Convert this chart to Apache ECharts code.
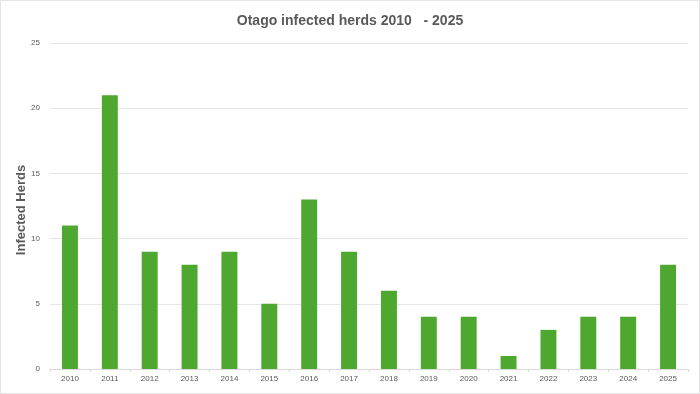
<!DOCTYPE html>
<html><head><meta charset="utf-8">
<script src="https://cdn.jsdelivr.net/npm/echarts@6/dist/echarts.min.js"></script>
<style>html,body{margin:0;padding:0;background:#fff}#c{width:700px;height:394px;box-sizing:border-box;border:1px solid #e4e4e4}</style>
</head><body><div id="c"></div>
<script>
const years = ['2010','2011','2012','2013','2014','2015','2016','2017','2018','2019','2020','2021','2022','2023','2024','2025'];
const herds = [11,21,9,8,9,5,13,9,6,4,4,1,3,4,4,8];
const chart = echarts.init(document.getElementById('c'));
chart.setOption({
  animation:false,
  title:{text:'Otago infected herds 2010   - 2025',left:'center',top:8,textStyle:{fontFamily:'Liberation Sans',fontSize:14,fontWeight:'bold',color:'#595959'}},
  grid:{left:49,right:11,top:42,bottom:24,containLabel:false,outerBoundsMode:'none'},
  xAxis:{type:'category',data:years,axisLine:{lineStyle:{color:'#d9d9d9'}},axisTick:{show:true,lineStyle:{color:'#d9d9d9'},length:3},
    axisLabel:{fontFamily:'Liberation Sans',fontSize:8,color:'#595959',margin:6}},
  yAxis:{type:'value',min:0,max:25,interval:5,name:'Infected Herds',nameLocation:'middle',nameGap:22,nameMoveOverlap:false,
    nameTextStyle:{fontFamily:'Liberation Sans',fontSize:13,fontWeight:'bold',color:'#595959',padding:[0,8,0,0]},
    axisLabel:{fontFamily:'Liberation Sans',fontSize:8,color:'#595959',margin:10},
    splitLine:{lineStyle:{color:'#e6e6e6'}},axisLine:{show:false},axisTick:{show:false}},
  series:[{type:'bar',data:herds,barWidth:'40%',itemStyle:{color:'#4ea72e'}}]
});
</script></body></html>
